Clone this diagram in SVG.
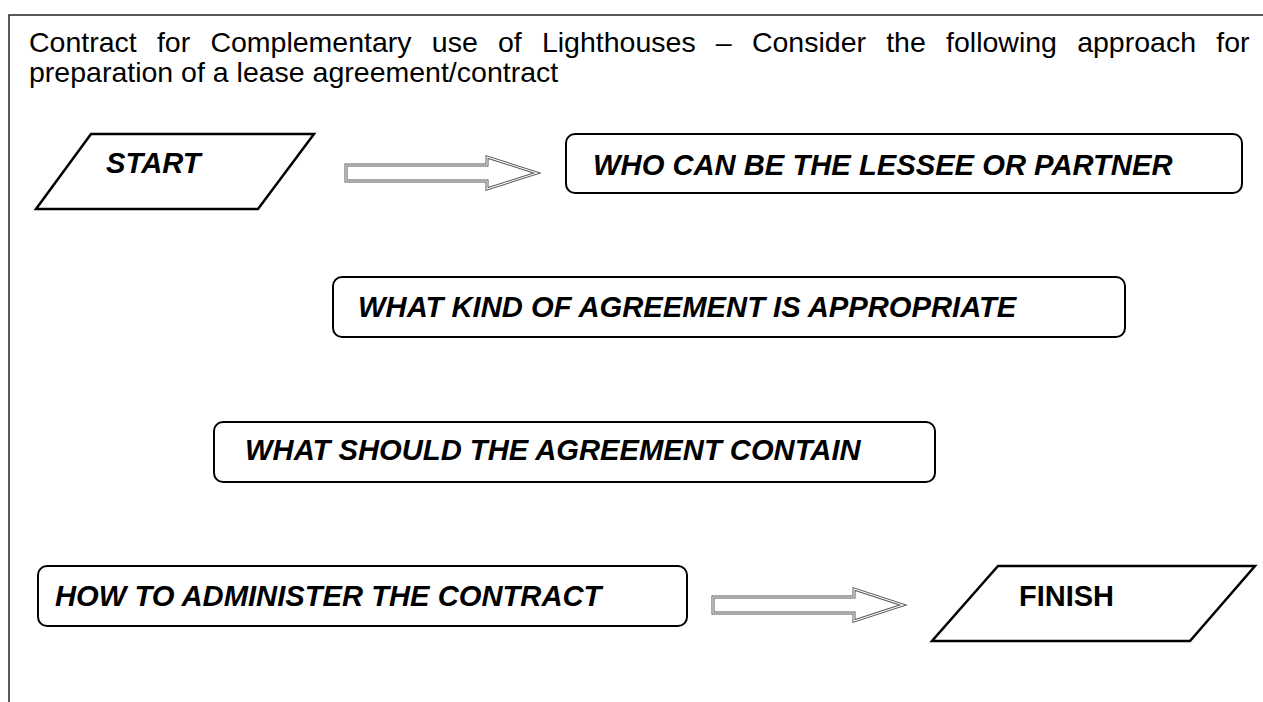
<svg xmlns="http://www.w3.org/2000/svg" width="1263" height="702" viewBox="0 0 1263 702">
<style>
  .frame { fill: none; stroke: #222; stroke-width: 1.5; }
  .box { fill: #fff; stroke: #000; stroke-width: 2; }
  .para { fill: #fff; stroke: #000; stroke-width: 2.5; stroke-linejoin: miter; }
  .lbl { font-family: "Liberation Sans", Arial, sans-serif; font-weight: bold; font-style: italic; font-size: 29.2px; fill: #000; }
  .lbl2 { font-family: "Liberation Sans", Arial, sans-serif; font-weight: bold; font-size: 29px; fill: #000; }
  .title { font-family: "Liberation Sans", Arial, sans-serif; font-size: 28.5px; fill: #000; }
  .arrOut { fill: #fff; stroke: #555; stroke-width: 3; stroke-linejoin: miter; }
  .arrIn { fill: none; stroke: #fff; stroke-width: 1.1; stroke-linejoin: miter; }
</style>
<rect width="1263" height="702" fill="#fff"/>
<path class="frame" d="M9,702 L9,15 L1263,15"/>
<g id="title">
  <text class="title" x="29" y="52" word-spacing="12.3">Contract for Complementary use of Lighthouses – Consider the following approach for</text>
  <text class="title" x="29" y="82">preparation of a lease agreement/contract</text>
</g>
<g id="start">
  <polygon class="para" points="91,134 314,134 258,209 36,209"/>
  <text class="lbl" x="106" y="173">START</text>
</g>
<g id="who">
  <rect class="box" x="566" y="134" width="676" height="59" rx="9"/>
  <text class="lbl" x="593" y="175">WHO CAN BE THE LESSEE OR PARTNER</text>
</g>
<g id="kind">
  <rect class="box" x="333" y="277" width="792" height="60" rx="9"/>
  <text class="lbl" x="358" y="317">WHAT KIND OF AGREEMENT IS APPROPRIATE</text>
</g>
<g id="should">
  <rect class="box" x="214" y="422" width="721" height="60" rx="9"/>
  <text class="lbl" x="245" y="460">WHAT SHOULD THE AGREEMENT CONTAIN</text>
</g>
<g id="how">
  <rect class="box" x="38" y="566" width="649" height="60" rx="9"/>
  <text class="lbl" x="55" y="606">HOW TO ADMINISTER THE CONTRACT</text>
</g>
<g id="finish">
  <polygon class="para" points="998,566 1255,566 1190,641 932,641"/>
  <text class="lbl2" x="1019" y="606">FINISH</text>
</g>
<g id="connectors">
  <path class="arrOut" d="M346,165 L487,165 L487,157 L537,173 L487,189 L487,181 L346,181 Z"/>
  <path class="arrIn" d="M346,165 L487,165 L487,157 L537,173 L487,189 L487,181 L346,181 Z"/>
  <path class="arrOut" d="M713,597 L854,597 L854,589 L903,605 L854,621 L854,613 L713,613 Z"/>
  <path class="arrIn" d="M713,597 L854,597 L854,589 L903,605 L854,621 L854,613 L713,613 Z"/>
</g>
</svg>
